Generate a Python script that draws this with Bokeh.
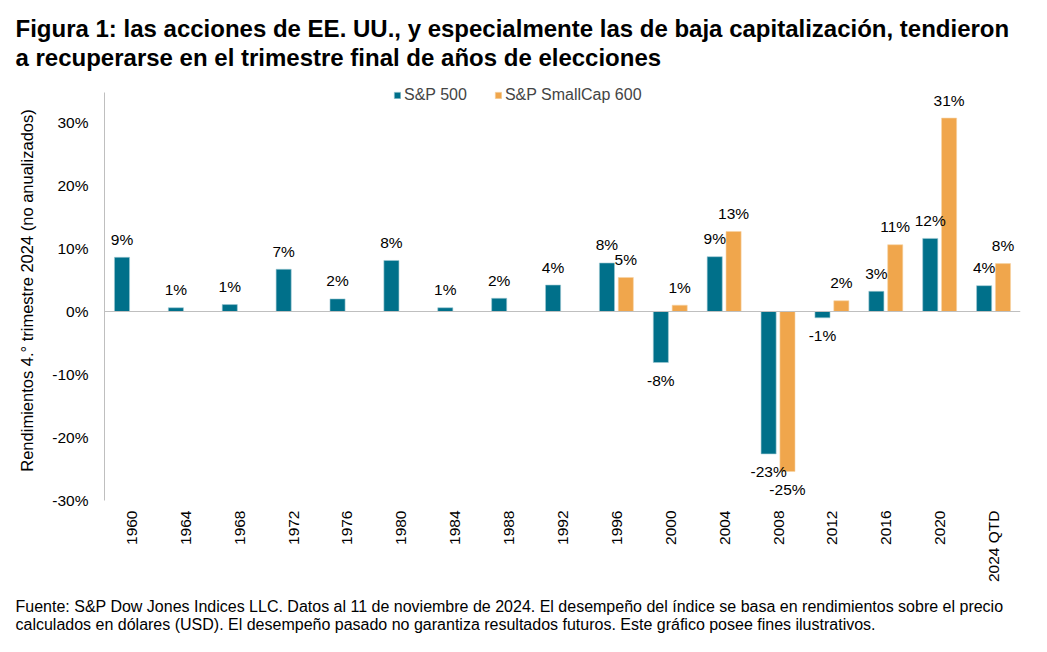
import math
from bokeh.plotting import figure
from bokeh.models import (ColumnDataSource, FactorRange, Range1d, Span, LabelSet, Title,
                          Legend, LegendItem, FixedTicker, PrintfTickFormatter)
from bokeh.transform import dodge
from bokeh.core.properties import value
from bokeh.embed import file_html
from bokeh.resources import INLINE

# ---------------- data ----------------
categories = ["1960", "1964", "1968", "1972", "1976", "1980", "1984", "1988", "1992",
              "1996", "2000", "2004", "2008", "2012", "2016", "2020", "2024 QTD"]
sp500 = [8.6, 0.6, 1.1, 6.7, 2.0, 8.1, 0.6, 2.1, 4.2,
         7.7, -8.1, 8.7, -22.6, -1.0, 3.2, 11.6, 4.1]
smallcap_categories = ["1996", "2000", "2004", "2008", "2012", "2016", "2020", "2024 QTD"]
smallcap600 = [5.4, 1.0, 12.7, -25.4, 1.7, 10.6, 30.7, 7.6]
y_ticks = [-30, -20, -10, 0, 10, 20, 30]

title_lines = ["Figura 1: las acciones de EE. UU., y especialmente las de baja capitalización, tendieron",
               "a recuperarse en el trimestre final de años de elecciones"]
y_label = "Rendimientos 4.° trimestre 2024 (no anualizados)"
foot_lines = ["Fuente: S&P Dow Jones Indices LLC. Datos al 11 de noviembre de 2024. El desempeño del índice se basa en rendimientos sobre el precio",
              "calculados en dólares (USD). El desempeño pasado no garantiza resultados futuros. Este gráfico posee fines ilustrativos."]

BLUE = "#00708A"
ORANGE = "#F0A64C"
FONT = "Liberation Sans"

def lbl(v):
    return f"{v:.0f}%"

src_a = ColumnDataSource(dict(cat=categories, val=sp500,
                              txt=[lbl(v) for v in sp500],
                              off=[18 if v >= 0 else -18 for v in sp500]))
src_b = ColumnDataSource(dict(cat=smallcap_categories, val=smallcap600,
                              txt=[lbl(v) for v in smallcap600],
                              off=[18 if v >= 0 else -18 for v in smallcap600]))

p = figure(x_range=FactorRange(*categories, range_padding=0),
           y_range=Range1d(-30, -30 + 420 / 6.3),
           frame_width=916, frame_height=420,
           min_border_left=104, min_border_right=25, min_border_top=80, min_border_bottom=150,
           output_backend="svg", toolbar_location=None)
p.outline_line_color = None
p.xgrid.visible = False
p.ygrid.visible = False

OFF = 0.175
W = 0.28
ra = p.vbar(x=dodge("cat", -OFF, range=p.x_range), top="val", bottom=0, width=W,
            source=src_a, fill_color=BLUE, line_color="#9FC9D3", line_width=0.6)
rb = p.vbar(x=dodge("cat", OFF, range=p.x_range), top="val", bottom=0, width=W,
            source=src_b, fill_color=ORANGE, line_color="#F7D3A4", line_width=0.6)

p.add_layout(Span(location=0, dimension="width", line_color="#BFBFBF", line_width=1.2))

for src, off in ((src_a, -OFF), (src_b, OFF)):
    ls = LabelSet(x=dodge("cat", off, range=p.x_range), y="val", text="txt", y_offset="off",
                  source=src, text_align="center", text_baseline="middle",
                  text_font=value(FONT), text_font_size="15.5px", text_color="#000000")
    p.add_layout(ls)

# axes
p.yaxis.bounds = (-30, 34.8)
p.yaxis.ticker = FixedTicker(ticks=y_ticks)
p.yaxis.formatter = PrintfTickFormatter(format="%d%%")
p.yaxis.axis_line_color = "#BFBFBF"
p.yaxis.major_tick_line_color = None
p.yaxis.minor_tick_line_color = None
p.yaxis.major_tick_out = 0
p.yaxis.minor_tick_out = 0
p.yaxis.major_label_text_font = FONT
p.yaxis.major_label_text_font_size = "15.5px"
p.yaxis.major_label_text_color = "#000000"
p.yaxis.major_label_standoff = 16
p.yaxis.axis_label = y_label
p.yaxis.axis_label_text_font = FONT
p.yaxis.axis_label_text_font_size = "16.5px"
p.yaxis.axis_label_text_font_style = "normal"
p.yaxis.axis_label_text_color = "#000000"
p.yaxis.axis_label_standoff = 13

p.xaxis.axis_line_color = None
p.xaxis.major_tick_line_color = None
p.xaxis.minor_tick_line_color = None
p.xaxis.major_tick_out = 0
p.xaxis.minor_tick_out = 0
p.xaxis.major_label_orientation = math.pi / 2
p.xaxis.major_label_text_font = FONT
p.xaxis.major_label_text_font_size = "15.5px"
p.xaxis.major_label_text_color = "#000000"
p.xaxis.major_label_standoff = 10

legend = Legend(items=[LegendItem(label="S&P 500", renderers=[ra]),
                       LegendItem(label="S&P SmallCap 600", renderers=[rb])],
                orientation="horizontal", location=(285, 392),
                padding=4, margin=0, spacing=27, label_standoff=3,
                glyph_width=8, glyph_height=8,
                label_text_font=FONT, label_text_font_size="16px",
                border_line_alpha=0, background_fill_alpha=0)
p.add_layout(legend, "center")

# title above, footnote below (multi-line)
p.add_layout(Title(text="\n".join(title_lines), align="left", offset=-89, standoff=18,
                   text_font=FONT, text_font_size="24px", text_font_style="bold",
                   text_line_height=1.08, text_color="#000000"), "above")
p.add_layout(Title(text="\n".join(foot_lines), align="left", offset=-89, standoff=20,
                   text_font=FONT, text_font_size="16px", text_font_style="normal",
                   text_line_height=1.1, text_color="#000000"), "below")

open("out.html", "w").write(file_html(p, INLINE))
